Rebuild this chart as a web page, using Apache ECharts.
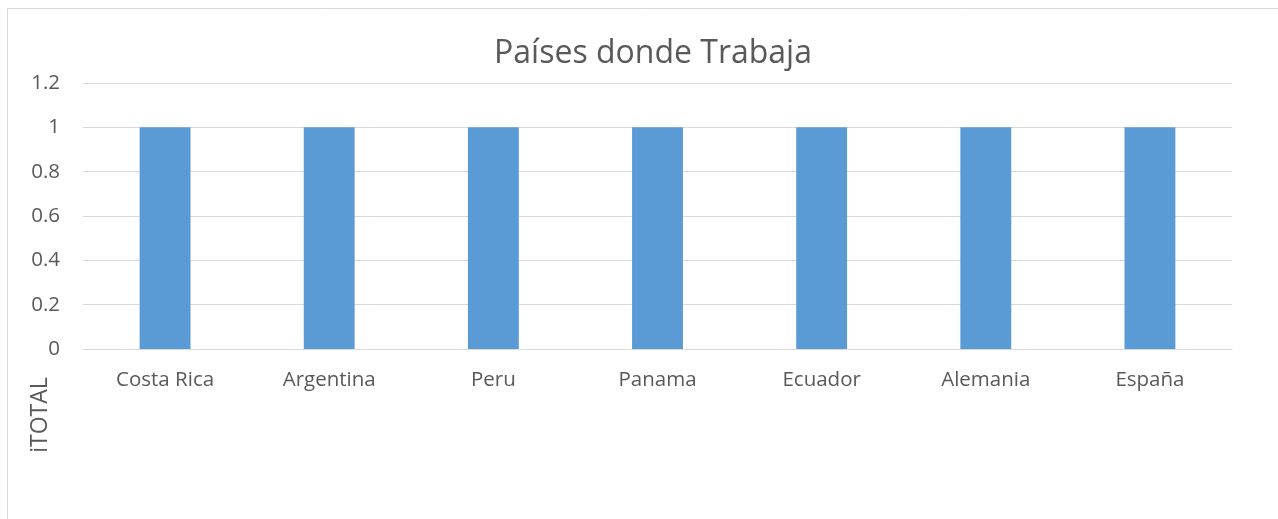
<!DOCTYPE html>
<html><head><meta charset="utf-8">
<script src="https://cdn.jsdelivr.net/npm/echarts@6/dist/echarts.min.js"></script>
<style>html,body{margin:0;padding:0;background:#fff}#c{width:1278px;height:519px}</style>
</head><body><div id="c"></div>
<script>
const categories = ['Costa Rica','Argentina','Peru','Panama','Ecuador','Alemania','España'];
const values = [1,1,1,1,1,1,1];
const titleText = 'Países donde Trabaja';
const sideLabel = 'iTOTAL';

const chart = echarts.init(document.getElementById('c'));
const font = '"Open Sans", "Noto Sans", sans-serif';
chart.setOption({
  animation:false,
  backgroundColor:'#fff',
  title:{text:titleText,left:648,top:33,textAlign:'center',
    textStyle:{fontFamily:font,fontSize:32,fontWeight:'normal',color:'#595959'}},
  grid:{left:83,right:46,top:83,bottom:170,containLabel:false},
  xAxis:{type:'category',data:categories,
    axisLine:{lineStyle:{color:'#d9d9d9',width:1}},axisTick:{show:false},
    axisLabel:{color:'#595959',fontFamily:font,fontSize:20.5,margin:21}},
  yAxis:{type:'value',min:0,max:1.2,interval:0.2,
    axisLine:{show:false},axisTick:{show:false},
    splitLine:{lineStyle:{color:'#d9d9d9',width:1}},
    axisLabel:{color:'#595959',fontFamily:font,fontSize:20.5,margin:23,
      formatter:v=>String(Math.round(v*10)/10)}},
  series:[{type:'bar',data:values,barWidth:'31%',itemStyle:{color:'#5b9bd5'}}],
  graphic:[
    {type:'rect',shape:{x:7.5,y:8.5,width:1400,height:600},style:{fill:'none',stroke:'#d9d9d9',lineWidth:1},silent:true},
    {type:'text',x:40,y:415,rotation:Math.PI/2,style:{text:sideLabel,fontFamily:font,fontSize:23,fill:'#595959',align:'center',verticalAlign:'middle'}}
  ]
});
</script></body></html>
